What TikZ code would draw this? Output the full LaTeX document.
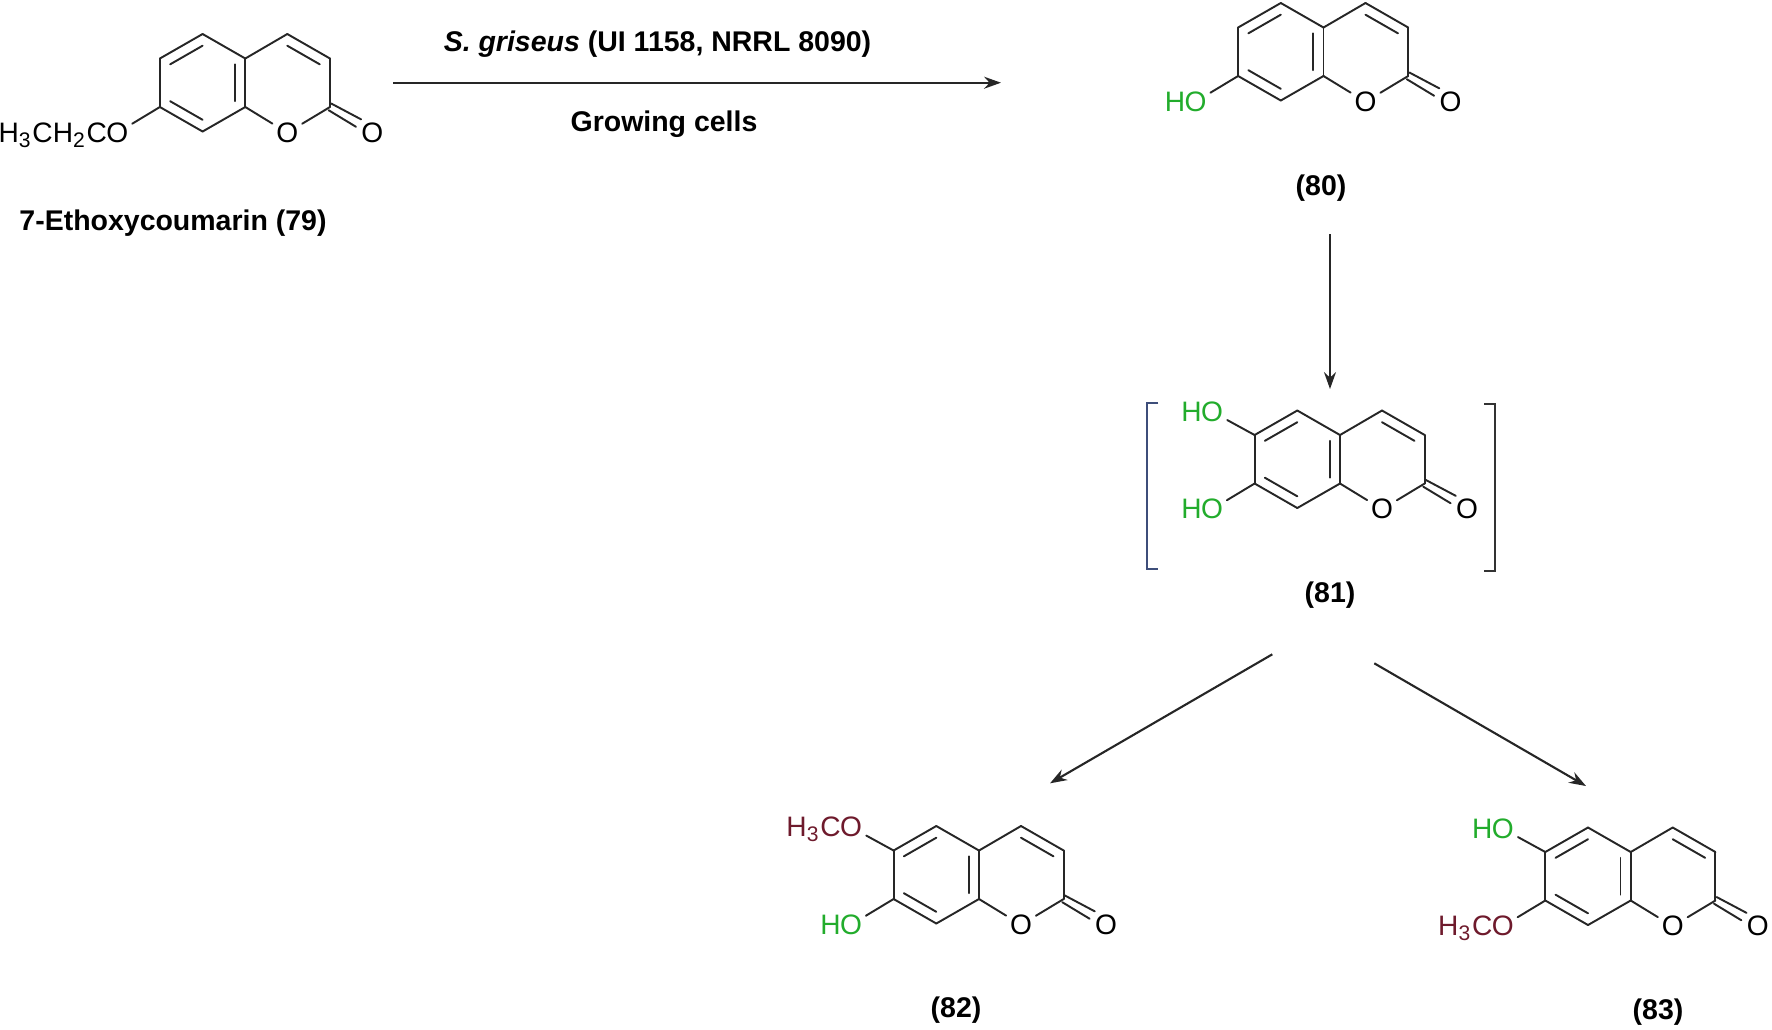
\documentclass[tikz,border=0pt]{standalone}
\usepackage{fontspec}
\setmainfont{Liberation Sans}
\usetikzlibrary{positioning, calc, arrows.meta}

\definecolor{hogreen}{RGB}{34,172,44}
\definecolor{meored}{RGB}{110,26,44}
\definecolor{brackblue}{RGB}{62,78,122}

\tikzset{
    bond/.style={draw=black!85, line width=0.55pt, line cap=round},
    rxnarrow/.style={draw=black!85, line width=0.6pt, -{Stealth[length=4.8pt, width=3.4pt]}},
    atom/.style={circle, inner sep=0.4pt, font=\fontsize{8}{10}\selectfont},
    atomtail/.style={inner sep=0pt, font=\fontsize{8}{10}\selectfont},
    cptlabel/.style={inner sep=0pt, font=\fontsize{8.1}{10}\selectfont\bfseries},
}

% #1 prefix of the names, (#2,#3) ring fusion carbon on top
\newcommand{\coumarin}[3]{%
    \begin{scope}[shift={(#2,#3)}]
        \coordinate (#1c4a) at (0,0);
        \coordinate (#1c5) at (-42.7,-24.5);
        \coordinate (#1c6) at (-85.4,0);
        \coordinate (#1c7) at (-85.4,48.5);
        \coordinate (#1c8) at (-42.7,73);
        \coordinate (#1c8a) at (0,48.5);
        \coordinate (#1c4) at (42,-24.5);
        \coordinate (#1c3) at (84.7,0);
        \coordinate (#1c2) at (84.7,48.5);
        \coordinate (#1c2u) at (85.9,45);
        \coordinate (#1c2l) at (83.3,51.7);
        \coordinate (#1rb) at (-42.7,24.25);
        \coordinate (#1rp) at (42,24.25);
        \node[atom] (#1o) at (42,74.2) {O};
        \node[atom] (#1oc) at (127,74.2) {O};
    \end{scope}
    \draw[bond] (#1c4a) -- (#1c5);
    \draw[bond] (#1c5) -- (#1c6);
    \draw[bond] (#1c6) -- (#1c7);
    \draw[bond] (#1c7) -- (#1c8);
    \draw[bond] (#1c8) -- (#1c8a);
    \draw[bond] (#1c8a) -- (#1c4a);
    \draw[bond] (#1c4a) -- (#1c4);
    \draw[bond] (#1c4) -- (#1c3);
    \draw[bond] (#1c3) -- (#1c2);
    \draw[bond] (#1c2) -- (#1o);
    \draw[bond] (#1c8a) -- (#1o);
    \draw[bond] (#1c2u) -- (#1oc.130);
    \draw[bond] (#1c2l) -- (#1oc.160);
    \draw[bond] ($(#1rb)!.76!(#1c5)$) -- ($(#1rb)!.76!(#1c6)$);
    \draw[bond] ($(#1rb)!.76!(#1c7)$) -- ($(#1rb)!.76!(#1c8)$);
    \draw[bond] ($(#1rb)!.76!(#1c4a)$) -- ($(#1rb)!.76!(#1c8a)$);
    \draw[bond] ($(#1rp)!.76!(#1c4)$) -- ($(#1rp)!.76!(#1c3)$);
}

\begin{document}
\begin{tikzpicture}[x=0.01cm, y=-0.01cm]
    \useasboundingbox (0,0) rectangle (1772,1029);

    % 79
    \coumarin{a}{245.3}{58.5}
    \node[atom] (aoe) at ($(ac7)+(-42.6,25.7)$) {O};
    \node[atomtail] (aet) [base left=-2.2pt of aoe] {H\textsubscript{3}CH\textsubscript{2}C};
    \draw[bond] (ac7) -- (aoe);
    \node[cptlabel] (alabel) at (173,223.5) {7-Ethoxycoumarin (79)};

    % 80
    \coumarin{b}{1323.5}{27.5}
    \node[atom, text=hogreen] (boh) at ($(bc7)+(-42.6,25.7)$) {O};
    \node[atomtail, text=hogreen] (bh) [base left=-2.2pt of boh] {H};
    \draw[bond] (bc7) -- (boh);
    \node[cptlabel] (blabel) at (1321,188) {(80)};

    % 81
    \coumarin{c}{1340}{435}
    \node[atom, text=hogreen] (couh) at ($(cc6)+(-42.6,-23.3)$) {O};
    \node[atomtail, text=hogreen] (cuh) [base left=-2.2pt of couh] {H};
    \node[atom, text=hogreen] (cloh) at ($(cc7)+(-42.6,25.7)$) {O};
    \node[atomtail, text=hogreen] (clh) [base left=-2.2pt of cloh] {H};
    \draw[bond] (cc6) -- (couh);
    \draw[bond] (cc7) -- (cloh);
    \node[cptlabel] (clabel) at (1330,595.5) {(81)};
    \draw[line width=0.55pt, draw=brackblue] (1158.3,402.7) -- (1147.3,402.7) -- (1147.3,569.3) -- (1158.3,569.3);
    \draw[line width=0.55pt, draw=black!80] (1484,404.3) -- (1494.7,404.3) -- (1494.7,570.7) -- (1484,570.7);

    % 82
    \coumarin{d}{979}{850.5}
    \node[atom, text=meored] (dome) at ($(dc6)+(-42.6,-23.3)$) {O};
    \node[atomtail, text=meored] (dme) [base left=-2.2pt of dome] {H\textsubscript{3}C};
    \node[atom, text=hogreen] (doh) at ($(dc7)+(-42.6,25.7)$) {O};
    \node[atomtail, text=hogreen] (dh) [base left=-2.2pt of doh] {H};
    \draw[bond] (dc6) -- (dome);
    \draw[bond] (dc7) -- (doh);
    \node[cptlabel] (dlabel) at (956,1010.5) {(82)};

    % 83
    \coumarin{e}{1630.7}{852}
    \node[atom, text=hogreen] (eoh) at ($(ec6)+(-42.6,-23.3)$) {O};
    \node[atomtail, text=hogreen] (eh) [base left=-2.2pt of eoh] {H};
    \node[atom, text=meored] (eome) at ($(ec7)+(-42.6,25.7)$) {O};
    \node[atomtail, text=meored] (eme) [base left=-2.2pt of eome] {H\textsubscript{3}C};
    \draw[bond] (ec6) -- (eoh);
    \draw[bond] (ec7) -- (eome);
    \node[cptlabel] (elabel) at (1658,1012.5) {(83)};

    % arrows
    \coordinate (topstart) at (393,82.7);
    \coordinate (topend) at (1001,82.7);
    \coordinate (downstart) at (1330,234);
    \coordinate (downend) at (1330,389);
    \coordinate (leftstart) at (1272.3,654.3);
    \coordinate (leftend) at (1050,783.3);
    \coordinate (rightstart) at (1374.3,663.3);
    \coordinate (rightend) at (1586,786);
    \draw[rxnarrow] (topstart) -- (topend);
    \draw[rxnarrow] (downstart) -- (downend);
    \draw[rxnarrow] (leftstart) -- (leftend);
    \draw[rxnarrow] (rightstart) -- (rightend);

    \node[cptlabel] (strain) at (657.5,44.5) {\textit{S. griseus} (UI 1158, NRRL 8090)};
    \node[cptlabel] (cells) at (664,124.5) {Growing cells};
\end{tikzpicture}
\end{document}
